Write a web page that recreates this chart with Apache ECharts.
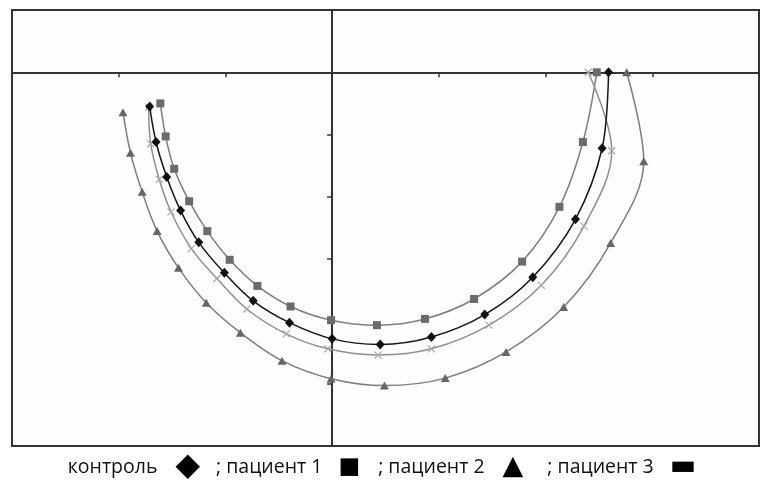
<!DOCTYPE html>
<html>
<head>
<meta charset="utf-8">
<script src="https://cdn.jsdelivr.net/npm/echarts@6/dist/echarts.min.js"></script>
<style>
  html, body { margin: 0; padding: 0; background: #fff; }
  #chart { width: 764px; height: 492px; }
</style>
</head>
<body>
<div id="chart"></div>
<script>
// axis units (tick step = 10)
const seriesNames = ['контроль', 'пациент 1', 'пациент 2', 'пациент 3']

const controlData = [
  [-17.1, -5.5], [-16.5, -11.2], [-15.5, -16.8], [-14.2, -22.2], [-12.5, -27.3],
  [-10.1, -32.2], [-7.4, -36.7], [-4.0, -40.2], [0.0, -42.8], [4.5, -43.7],
  [9.3, -42.5], [14.3, -38.9], [18.8, -32.9], [22.8, -23.6], [25.3, -12.2], [25.9, 0]
]
const patient1Data = [
  [-16.1, -5.0], [-15.6, -10.3], [-14.8, -15.5], [-13.4, -20.7], [-11.7, -25.5],
  [-9.6, -30.1], [-7.0, -34.3], [-3.9, -37.6], [-0.1, -39.8], [4.2, -40.6],
  [8.7, -39.6], [13.3, -36.4], [17.8, -30.4], [21.3, -21.6], [23.5, -11.2], [24.8, 0]
]
const patient2Data = [
  [-19.6, -6.4], [-18.9, -12.9], [-17.8, -19.2], [-16.4, -25.5], [-14.4, -31.4],
  [-11.8, -37.0], [-8.6, -41.8], [-4.7, -46.3], [-0.1, -49.2], [4.9, -50.3],
  [10.6, -49.1], [16.3, -44.9], [21.7, -37.7], [26.1, -27.4], [29.2, -14.3], [27.6, 0]
]
const patient3Data = [
  [-17.2, -5.6], [-17.0, -11.5], [-16.2, -17.2], [-15.1, -22.4], [-13.2, -28.3],
  [-10.8, -33.1], [-8.0, -38.0], [-4.3, -42.0], [-0.4, -44.4], [4.3, -45.4],
  [9.3, -44.4], [14.7, -40.6], [19.6, -34.2], [23.6, -24.7], [26.2, -12.6], [24.0, 0]
]

const chart = echarts.init(document.getElementById('chart'))

const axisLine = { onZero: true, lineStyle: { color: '#333', width: 2 } }
const axisTick = { show: true, length: 5, lineStyle: { color: '#333', width: 1.5 } }

const option = {
  animation: false,
  backgroundColor: '#fff',
  grid: {
    left: 12, right: 5, top: 10, bottom: 46,
    show: true,
    borderColor: '#333',
    borderWidth: 2,
    backgroundColor: '#fdfdfd'
  },
  xAxis: {
    type: 'value',
    min: -30, max: 40, interval: 10,
    axisLine, axisTick,
    axisLabel: { show: false },
    splitLine: { show: false }
  },
  yAxis: {
    type: 'value',
    min: -60, max: 10, interval: 10,
    axisLine, axisTick,
    axisLabel: { show: false },
    splitLine: { show: false }
  },
  series: [
    {
      name: seriesNames[0],
      type: 'line',
      data: controlData,
      smooth: 0.35,
      z: 5,
      symbol: 'diamond',
      symbolSize: [9, 10],
      lineStyle: { color: '#151515', width: 1.5 },
      itemStyle: { color: '#111' }
    },
    {
      name: seriesNames[1],
      type: 'line',
      data: patient1Data,
      smooth: 0.35,
      symbol: 'rect',
      symbolSize: 8,
      lineStyle: { color: '#7d7d7d', width: 1.5 },
      itemStyle: { color: '#6b6b6b' }
    },
    {
      name: seriesNames[2],
      type: 'line',
      data: patient2Data,
      smooth: 0.35,
      symbol: 'triangle',
      symbolSize: [9, 8],
      lineStyle: { color: '#7d7d7d', width: 1.5 },
      itemStyle: { color: '#666' }
    },
    {
      name: seriesNames[3],
      type: 'line',
      data: patient3Data,
      smooth: 0.35,
      symbol: 'path://M0,0L10,10M10,0L0,10',
      symbolSize: 7,
      lineStyle: { color: '#8f8f8f', width: 1.5 },
      itemStyle: { color: '#aaa', borderColor: '#a5a5a5', borderWidth: 1.2 }
    }
  ],
  // legend line: name, then its marker
  graphic: [{
    type: 'text',
    left: 'center',
    top: 451,
    style: {
      text: seriesNames[0] + '{d|◆}; ' + seriesNames[1] + '{s|■}; ' +
            seriesNames[2] + '{t|▲}; ' + seriesNames[3] + '{m|▬}',
      font: '19.5px "Open Sans", sans-serif',
      fill: '#111',
      rich: {
        d: { font: '32px "DejaVu Sans"', fill: '#000', padding: [0, 16, 0, 18] },
        s: { font: '23px "DejaVu Sans"', fill: '#000', padding: [0, 18, 0, 16] },
        t: { font: '27px "DejaVu Sans"', fill: '#000', padding: [0, 24, 0, 18] },
        m: { font: '28px "DejaVu Sans"', fill: '#000', padding: [0, 0, 0, 16] }
      }
    }
  }]
}

chart.setOption(option)
</script>
</body>
</html>
